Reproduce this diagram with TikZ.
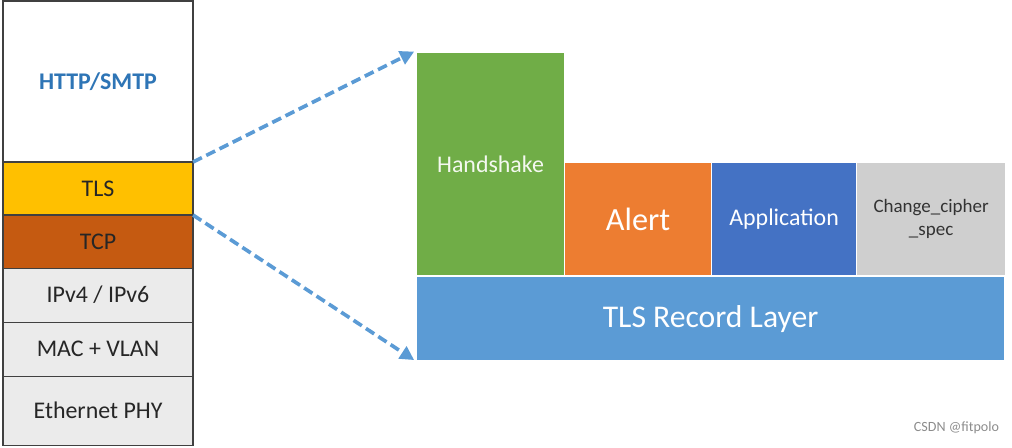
\documentclass[tikz,border=0pt]{standalone}
\usepackage{fontspec}
\setmainfont{Carlito}
\usetikzlibrary{positioning, arrows.meta}

\definecolor{tlsyellow}{HTML}{FFC000}
\definecolor{tcporange}{HTML}{C55A11}
\definecolor{layergray}{HTML}{EBEBEB}
\definecolor{httpblue}{HTML}{2E75B6}
\definecolor{hsgreen}{HTML}{70AD47}
\definecolor{alertorange}{HTML}{ED7D31}
\definecolor{appblue}{HTML}{4472C4}
\definecolor{ccsgray}{HTML}{CFCFCF}
\definecolor{recordblue}{HTML}{5B9BD5}

\begin{document}
\begin{tikzpicture}[x=0.025cm, y=-0.025cm, outer sep=0pt, inner sep=0pt,
  layer/.style={rectangle, draw=black!75, line width=0.8pt, minimum width=4.75cm,
    text=black!85, font=\fontsize{17}{19}\selectfont},
  block/.style={rectangle, minimum width=3.65cm, align=center, text=white},
  zoomarrow/.style={draw=recordblue, line width=2.6pt, dash pattern=on 7pt off 3.5pt,
    -{Triangle[length=10pt, width=10pt]}}]

  \useasboundingbox (0,0) rectangle (1012,447);

  % protocol stack
  \node[layer, minimum height=4.025cm, anchor=north west, fill=white, text=httpblue,
    font=\fontsize{17}{19}\selectfont\bfseries] (http) at (3,1) {HTTP/SMTP};
  \node[layer, minimum height=1.325cm, below=0pt of http, fill=tlsyellow] (tls) {TLS};
  \node[layer, minimum height=1.325cm, below=0pt of tls, fill=tcporange] (tcp) {TCP};
  \node[layer, minimum height=1.35cm, below=0pt of tcp, fill=layergray] (ip) {IPv4 / IPv6};
  \node[layer, minimum height=1.35cm, below=0pt of ip, fill=layergray] (mac) {MAC + VLAN};
  \node[layer, minimum height=1.725cm, below=0pt of mac, fill=layergray] (phy) {Ethernet PHY};

  % TLS sub-protocols
  \node[block, minimum height=5.55cm, minimum width=3.675cm, anchor=north west, fill=hsgreen,
    text=white!92!hsgreen, font=\fontsize{17}{19}\selectfont] (hs) at (417,53) {Handshake};
  \node[block, minimum height=2.8cm, right=0.025cm of hs.south east, anchor=south west,
    fill=alertorange, font=\fontsize{23}{25}\selectfont] (alert) {Alert};
  \node[block, minimum height=2.8cm, minimum width=3.6cm, right=0.025cm of alert.south east,
    anchor=south west, fill=appblue, font=\fontsize{17}{19}\selectfont] (appl) {Application};
  \node[block, minimum height=2.8cm, minimum width=3.7cm, right=0.025cm of appl.south east,
    anchor=south west, fill=ccsgray, text=black!80,
    font=\fontsize{13.5}{16.5}\selectfont] (ccs) {Change\_cipher\\\_spec};
  \node[block, minimum height=2.075cm, minimum width=14.675cm, below=0.05cm of hs.south west,
    anchor=north west, fill=recordblue, font=\fontsize{22.5}{25}\selectfont] (record) {TLS Record Layer};

  \draw[zoomarrow] (tls.north east) -- ([xshift=-2pt, yshift=1pt]hs.north west);
  \draw[zoomarrow] (tls.south east) -- ([xshift=-2pt]record.south west);

  \node[anchor=east, text=black!45, font=\fontsize{10}{12}\selectfont] (mark) at (999,428) {CSDN @fitpolo};
\end{tikzpicture}
\end{document}
